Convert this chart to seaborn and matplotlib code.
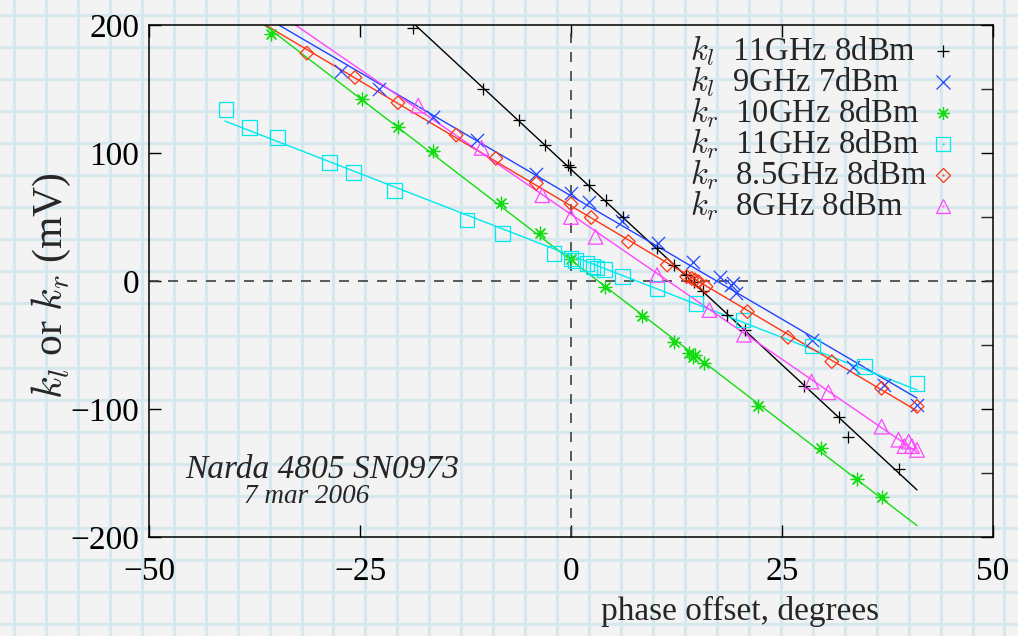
import numpy as np
import matplotlib
matplotlib.use("Agg")
import matplotlib.pyplot as plt
import seaborn as sns

# phase offset (degrees) and detector output (mV)
kl_11_x = [-18.7, -10.4, -6.2, -3.1, -0.3, -0.1, 2.1, 4.1, 6.2, 10.2, 12.2, 13.6,
           14.6, 15.6, 18.5, 20.6, 27.6, 31.8, 32.8, 38.9]
kl_11_y = [198, 150, 126, 106, 91, 89, 75, 63, 50, 25.5, 12.5, 4.7,
           -0.5, -7.5, -26.6, -38, -82, -106, -121.6, -146.6]

kl_9_x = [-27.2, -22.7, -16.4, -11.1, -4.1, 0.0, 2.1, 6.0, 10.3, 14.5, 17.7, 18.9,
          19.2, 19.6, 28.5, 33.4, 37.1, 41.0]
kl_9_y = [164.3, 150, 128.4, 110, 83.6, 68.8, 62, 46.5, 29.4, 14.7, 3, -3,
          -1.8, -9.5, -46, -67.5, -81, -97]

kr_10_x = [-35.5, -24.8, -20.5, -16.4, -8.3, -3.7, 0.0, 4.0, 8.4, 12.2, 14.0, 14.5,
           14.7, 15.7, 22.1, 29.6, 33.9, 36.8]
kr_10_y = [193, 142, 120.5, 101.6, 60.7, 37.2, 17.5, -4.4, -27.3, -47.7, -56.5, -59,
           -58, -64.3, -97.7, -130.7, -155, -168.5]

kr_11_x = [-40.9, -38.1, -34.8, -28.6, -25.8, -20.9, -12.3, -8.1, -2.0, 0.0, 0.5, 1.9,
           2.6, 3.1, 4.0, 6.1, 10.2, 14.8, 20.4, 28.6, 34.8, 41.0]
kr_11_y = [134, 120, 112, 92.7, 84.6, 70.5, 47.7, 37.2, 21.6, 17.5, 16, 13.8,
           11.5, 10, 8.8, 3.4, -5.7, -17.4, -30.5, -50.8, -67, -80]

kr_85_x = [-31.3, -25.6, -20.5, -13.6, -8.9, -4.1, 0.0, 2.4, 6.8, 11.4, 13.7, 14.3,
           14.7, 15.1, 16.0, 20.9, 25.7, 30.9, 36.8, 41.0]
kr_85_y = [178, 159, 139.3, 114, 95.8, 76.3, 60.3, 49.6, 30.7, 12.5, 3.4, 2,
           0.8, -0.5, -4.4, -24, -44, -63, -83.8, -98]

kr_8_x = [-18.1, -10.6, -3.4, 0.0, 2.9, 10.2, 16.4, 20.5, 28.5, 30.5, 36.8, 38.8,
          40.0, 39.5, 40.4, 41.0]
kr_8_y = [137, 104, 67, 50, 34.5, 4.7, -22.7, -42, -78.6, -87, -113.8, -124,
          -125.5, -129, -129, -132]

labels = [r'$k_l$  11GHz 8dBm', r'$k_l$  9GHz 7dBm', r'$k_r$  10GHz 8dBm',
          r'$k_r$  11GHz 8dBm', r'$k_r$  8.5GHz 8dBm', r'$k_r$  8GHz 8dBm']
fit_span = [-41, 41]

x_ticks = [-50, -25, 0, 25, 50]
y_ticks = [-200, -100, 0, 100, 200]

sns.set_style("ticks")
plt.rcParams['font.family'] = ['Liberation Serif', 'DejaVu Serif']
plt.rcParams['mathtext.fontset'] = 'cm'

W, H = 1018, 636
fig = plt.figure(figsize=(W / 100, H / 100), dpi=100)
fig.patch.set_facecolor('#f3f3f3')

# graph paper backdrop
bg = fig.add_axes([0, 0, 1, 1], zorder=-10)
bg.set_xlim(0, W)
bg.set_ylim(H, 0)
bg.axis('off')
for gx in np.arange(14, W, 31.95):
    bg.axvline(gx, color='#d6e7ee', lw=2.2)
for gy in np.arange(15, H, 32.05):
    bg.axhline(gy, color='#d6e7ee', lw=2.2)

# plot frame in pixels: x 149..993, y 25..537
ax = fig.add_axes([149 / W, 1 - 537 / H, 844 / W, 512 / H])
ax.set_facecolor('none')

styles = [
    ('black', '+', 81, False),
    ('#2244ff', 'x', 90, False),
    ('#11dd11', (8, 2, 0), 85, False),
    ('#00e8f0', 's', 110, True),
    ('#ff3311', 'D', 48, True),
    ('#ff44ff', '^', 110, True),
]
data = [(kl_11_x, kl_11_y), (kl_9_x, kl_9_y), (kr_10_x, kr_10_y),
        (kr_11_x, kr_11_y), (kr_85_x, kr_85_y), (kr_8_x, kr_8_y)]

for (xs, ys), (c, mk, s, open_mk) in zip(data, styles):
    coef = np.polyfit(xs, ys, 1)
    sns.lineplot(x=fit_span, y=np.polyval(coef, fit_span), color=c, lw=1.0, ax=ax, zorder=2)
    if open_mk:
        sns.scatterplot(x=xs, y=ys, marker=mk, s=s, facecolor='none', edgecolor=c,
                        linewidth=0.9, ax=ax, zorder=3)
        sns.scatterplot(x=xs, y=ys, marker='.', s=1, color=c, linewidth=0, ax=ax, zorder=3)
    else:
        sns.scatterplot(x=xs, y=ys, marker=mk, s=s, color=c, linewidth=0.9, ax=ax, zorder=3)

ax.axhline(0, color='#404040', lw=1.2, dashes=(6, 5.4), zorder=1)
ax.axvline(0, color='#404040', lw=1.2, dashes=(6, 5.4), zorder=1)

ax.set_xlim(-50, 50)
ax.set_ylim(-200, 200)
ax.set_xticks(x_ticks)
ax.set_yticks(y_ticks)
ax.set_yticks([-150, -50, 50, 150], minor=True)
ax.tick_params(which='major', direction='in', length=8.5, width=1.0, labelsize=24,
               top=True, right=True, colors='black')
ax.tick_params(axis='x', pad=14)
ax.tick_params(axis='y', pad=7)
ax.tick_params(which='minor', axis='y', direction='in', length=8.5, width=1.0,
               left=False, right=True)
for sp in ax.spines.values():
    sp.set_color('black')
    sp.set_linewidth(1.1)

ax.set_xlabel('phase offset, degrees', fontsize=24, va='center')
ax.xaxis.set_label_coords(0.70, -0.146)
ax.set_ylabel(r'$k_l$ or $k_r$ (mV)', fontsize=30, va='center')
ax.yaxis.set_label_coords(-0.115, 0.49)

ax.text(-29.5, -147.7, 'Narda 4805 SN0973', fontsize=24, style='italic',
        ha='center', va='center')
ax.text(-31.3, -168.7, '7 mar 2006', fontsize=19.5, style='italic',
        ha='center', va='center')

# gnuplot-style key: labels left-justified, sample point to the right
key_x_text = (690 - 149) / 844
key_x_mark = (943 - 149) / 844
for i, (lab, (c, mk, s, open_mk)) in enumerate(zip(labels, styles)):
    base = 60 + 31 * i
    ax.text(key_x_text, (537 - base) / 512, lab, fontsize=23.5, ha='left', va='baseline',
            transform=ax.transAxes)
    ym = (537 - (base - 9)) / 512
    ax.plot([key_x_mark], [ym], ls='none', marker=mk, markersize=np.sqrt(s), color=c,
            markerfacecolor='none', markeredgewidth=0.9, transform=ax.transAxes,
            clip_on=False)
    if open_mk:
        ax.plot([key_x_mark], [ym], ls='none', marker='.', markersize=1, color=c,
                transform=ax.transAxes, clip_on=False)

fig.savefig('out.png', dpi=100, facecolor=fig.get_facecolor())
